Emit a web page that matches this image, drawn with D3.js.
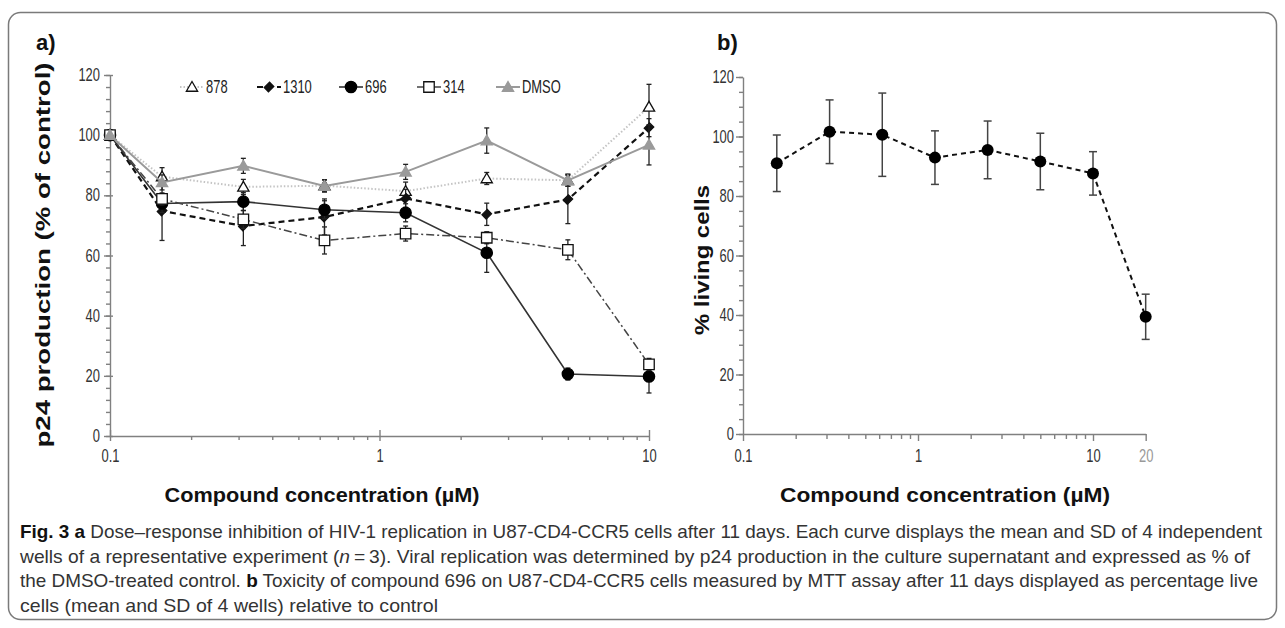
<!DOCTYPE html>
<html>
<head>
<meta charset="utf-8">
<script src="https://cdn.jsdelivr.net/npm/d3@7"></script>
<style>
  body { margin: 0; background: #fff; }
  svg { display: block; }
  .tick text, .legend text { font-family: "Liberation Sans", Arial, sans-serif; font-size: 17.5px; fill: #333; }
  .axis path, .axis line { stroke: #808080; stroke-width: 1.4; }
  .title { font-family: "Liberation Sans", Arial, sans-serif; font-weight: bold; fill: #111; }
  .caption { font-family: "Liberation Sans", Arial, sans-serif; font-size: 19px; fill: #333; }
</style>
</head>
<body>
<script>
// ---- data ----
var concA = [0.1, 0.156, 0.3125, 0.625, 1.25, 2.5, 5, 10];

var s878 = [100, 86.2, 82.8, 83.2, 81.4, 85.6, 85.0, 109.4];
var sd878 = [0, 3, 2.5, 2, 3, 2, 2, 7.5];
var s1310 = [100, 74.8, 69.8, 72.8, 79.0, 73.7, 78.6, 102.5];
var sd1310 = [0, 9.8, 6.5, 6, 3, 3.7, 8, 3];
var s696 = [100, 77.3, 77.9, 75.2, 74.2, 60.9, 20.6, 19.8];
var sd696 = [0, 3, 3, 3, 3, 6.5, 2, 5.5];
var s314 = [100, 78.8, 72.0, 65.0, 67.3, 65.9, 61.9, 23.8];
var sd314 = [0, 2, 3, 4.5, 2.5, 2, 3.3, 2];
var sDMSO = [100, 84.3, 89.8, 83.1, 87.8, 98.2, 85.0, 96.8];
var sdDMSO = [0, 2.5, 2.5, 2, 2.5, 4.2, 2, 6.7];

var legendNames = ["878", "1310", "696", "314", "DMSO"];

var concB = [0.156, 0.3125, 0.625, 1.25, 2.5, 5, 10, 20];
var living = [91.0, 101.6, 100.6, 92.9, 95.5, 91.6, 87.6, 39.4];
var livingSd = [9.5, 10.7, 14.0, 9.0, 9.7, 9.5, 7.3, 7.6];

var xTicksA = [0.1, 1, 10];
var xTicksB = [0.1, 1, 10, 20];
var yTicks = [0, 20, 40, 60, 80, 100, 120];

var squeeze = 0.74; // narrow look of the tick font

var svg = d3.select("body").append("svg")
  .attr("width", 1285)
  .attr("height", 628);

// outer frame
svg.append("rect")
  .attr("x", 8.5).attr("y", 12.5)
  .attr("width", 1268).attr("height", 607)
  .attr("rx", 12)
  .attr("fill", "none")
  .attr("stroke", "#7a7a7a")
  .attr("stroke-width", 1.5);

// ================= panel a =================
var xA = d3.scaleLog().domain([0.1, 10]).range([110, 649]);
var yA = d3.scaleLinear().domain([0, 120]).range([436, 75]);

// minor ticks
svg.append("g").attr("class", "axis")
  .attr("transform", "translate(0,436)")
  .call(d3.axisBottom(xA).tickValues(xA.ticks().filter(d => xTicksA.indexOf(d) < 0)).tickSize(4).tickFormat(""))
  .select(".domain").remove();
svg.append("g").attr("class", "axis")
  .attr("transform", "translate(110,0)")
  .call(d3.axisLeft(yA).tickValues(d3.range(0, 121, 4)).tickSize(4).tickFormat(""))
  .select(".domain").remove();

var xAxisA = svg.append("g").attr("class", "axis")
  .attr("transform", "translate(0,436)")
  .call(d3.axisBottom(xA).tickValues(xTicksA).tickFormat(d => d).tickSizeOuter(0));
xAxisA.selectAll(".tick line").attr("y1", -6).attr("y2", 5);
xAxisA.selectAll(".tick text").attr("y", 14).attr("transform", "scale(" + squeeze + ",1)");

var yAxisA = svg.append("g").attr("class", "axis")
  .attr("transform", "translate(110,0)")
  .call(d3.axisLeft(yA).tickValues(yTicks).tickSizeOuter(0));
yAxisA.selectAll(".tick line").attr("x1", -6).attr("x2", 3);
yAxisA.selectAll(".tick text").attr("x", -10 / squeeze).attr("transform", "scale(" + squeeze + ",1)");

var seriesA = [
  { vals: s878, sd: sd878, line: "#c4c4c4", width: 2, dash: "1.5,2", sym: d3.symbolTriangle, size: 55, fill: "#fff", stroke: "#111" },
  { vals: s1310, sd: sd1310, line: "#111", width: 2.2, dash: "6,4", sym: "diamond", size: 45, fill: "#111", stroke: "#111" },
  { vals: s696, sd: sd696, line: "#333", width: 1.6, dash: null, sym: d3.symbolCircle, size: 100, fill: "#000", stroke: "#000" },
  { vals: s314, sd: sd314, line: "#444", width: 1.5, dash: "8,3,2,3", sym: d3.symbolSquare, size: 110, fill: "#fff", stroke: "#111" },
  { vals: sDMSO, sd: sdDMSO, line: "#9a9a9a", width: 2, dash: null, sym: d3.symbolTriangle, size: 55, fill: "#9a9a9a", stroke: "#9a9a9a" }
];

function markerPath(s) {
  if (s.sym === "diamond") return d3.symbol(d3.symbolSquare, s.size)();
  return d3.symbol(s.sym, s.size)();
}
function markerTransform(s, x, y) {
  if (s.sym === "diamond") return "translate(" + x + "," + y + ") rotate(45) scale(0.9,1.1)";
  if (s.sym === d3.symbolTriangle) return "translate(" + x + "," + (y + 1) + ")";
  return "translate(" + x + "," + y + ")";
}

var lineA = d3.line().x(d => xA(d[0])).y(d => yA(d[1]));

seriesA.forEach(function(s) {
  var pts = concA.map((c, i) => [c, s.vals[i], s.sd[i]]);
  svg.append("path")
    .datum(pts)
    .attr("d", lineA)
    .attr("fill", "none")
    .attr("stroke", s.line)
    .attr("stroke-width", s.width)
    .attr("stroke-dasharray", s.dash);

  var eb = svg.append("g").selectAll("g")
    .data(pts.filter(d => d[2] > 0))
    .enter().append("g")
    .attr("stroke", "#222").attr("stroke-width", 1.3);
  eb.append("line")
    .attr("x1", d => xA(d[0])).attr("x2", d => xA(d[0]))
    .attr("y1", d => yA(d[1] - d[2])).attr("y2", d => yA(d[1] + d[2]));
  eb.append("line")
    .attr("x1", d => xA(d[0]) - 2.5).attr("x2", d => xA(d[0]) + 2.5)
    .attr("y1", d => yA(d[1] + d[2])).attr("y2", d => yA(d[1] + d[2]));
  eb.append("line")
    .attr("x1", d => xA(d[0]) - 2.5).attr("x2", d => xA(d[0]) + 2.5)
    .attr("y1", d => yA(d[1] - d[2])).attr("y2", d => yA(d[1] - d[2]));

  svg.append("g").selectAll("path")
    .data(pts)
    .enter().append("path")
    .attr("d", markerPath(s))
    .attr("transform", d => markerTransform(s, xA(d[0]), yA(d[1])))
    .attr("fill", s.fill)
    .attr("stroke", s.stroke)
    .attr("stroke-width", 1.3);
});

// legend
var legendX = [192, 269, 351, 429, 508];
seriesA.forEach(function(s, i) {
  var lg = svg.append("g").attr("class", "legend").attr("transform", "translate(" + legendX[i] + ",87)");
  lg.append("line")
    .attr("x1", -12).attr("x2", 12)
    .attr("stroke", s.line).attr("stroke-width", s.width)
    .attr("stroke-dasharray", s.dash);
  lg.append("path")
    .attr("d", markerPath(s))
    .attr("transform", markerTransform(s, 0, 0))
    .attr("fill", s.fill).attr("stroke", s.stroke).attr("stroke-width", 1.3);
  lg.append("text")
    .attr("x", 14 / squeeze).attr("dy", "0.35em")
    .attr("transform", "scale(" + squeeze + ",1)")
    .style("fill", "#222")
    .text(legendNames[i]);
});

svg.append("text").attr("class", "title")
  .attr("x", 36).attr("y", 50).style("font-size", "22px").text("a)");

svg.append("text").attr("class", "title")
  .attr("transform", "translate(50,255) rotate(-90)")
  .attr("text-anchor", "middle")
  .attr("textLength", 385).attr("lengthAdjust", "spacingAndGlyphs")
  .style("font-size", "21px")
  .text("p24 production (% of control)");

svg.append("text").attr("class", "title")
  .attr("x", 322).attr("y", 502)
  .attr("text-anchor", "middle")
  .attr("textLength", 315).attr("lengthAdjust", "spacingAndGlyphs")
  .style("font-size", "21px")
  .text("Compound concentration (\u00b5M)");

// ================= panel b =================
var xB = d3.scaleLog().domain([0.1, 20]).range([743, 743 + 175 * Math.log10(200)]);
var yB = d3.scaleLinear().domain([0, 120]).range([434, 77]);

svg.append("g").attr("class", "axis")
  .attr("transform", "translate(0,434)")
  .call(d3.axisBottom(xB).tickValues(xB.ticks().filter(d => xTicksB.indexOf(d) < 0)).tickSize(5).tickFormat(""))
  .select(".domain").remove();
svg.append("g").attr("class", "axis")
  .attr("transform", "translate(743,0)")
  .call(d3.axisLeft(yB).tickValues(d3.range(0, 121, 5)).tickSize(4).tickFormat(""))
  .select(".domain").remove();

var xAxisB = svg.append("g").attr("class", "axis")
  .attr("transform", "translate(0,434)")
  .call(d3.axisBottom(xB).tickValues(xTicksB).tickFormat(d => d).tickSize(7).tickSizeOuter(0));
xAxisB.selectAll(".tick text").attr("y", 16).attr("transform", "scale(" + squeeze + ",1)");
xAxisB.selectAll(".tick text").filter(d => d === 20).style("fill", "#999");

var yAxisB = svg.append("g").attr("class", "axis")
  .attr("transform", "translate(743,0)")
  .call(d3.axisLeft(yB).tickValues(yTicks).tickSize(7).tickSizeOuter(0));
yAxisB.selectAll(".tick text").attr("x", -9 / squeeze).attr("transform", "scale(" + squeeze + ",1)");

var ptsB = concB.map((c, i) => [c, living[i], livingSd[i]]);

svg.append("path")
  .datum(ptsB)
  .attr("d", d3.line().x(d => xB(d[0])).y(d => yB(d[1])))
  .attr("fill", "none")
  .attr("stroke", "#111")
  .attr("stroke-width", 2)
  .attr("stroke-dasharray", "5,4");

var ebB = svg.append("g").selectAll("g")
  .data(ptsB)
  .enter().append("g")
  .attr("stroke", "#444").attr("stroke-width", 1.5);
ebB.append("line")
  .attr("x1", d => xB(d[0])).attr("x2", d => xB(d[0]))
  .attr("y1", d => yB(d[1] - d[2])).attr("y2", d => yB(d[1] + d[2]));
ebB.append("line")
  .attr("x1", d => xB(d[0]) - 4).attr("x2", d => xB(d[0]) + 4)
  .attr("y1", d => yB(d[1] + d[2])).attr("y2", d => yB(d[1] + d[2]));
ebB.append("line")
  .attr("x1", d => xB(d[0]) - 4).attr("x2", d => xB(d[0]) + 4)
  .attr("y1", d => yB(d[1] - d[2])).attr("y2", d => yB(d[1] - d[2]));

svg.append("g").selectAll("circle")
  .data(ptsB)
  .enter().append("circle")
  .attr("cx", d => xB(d[0]))
  .attr("cy", d => yB(d[1]))
  .attr("r", 6)
  .attr("fill", "#000");

svg.append("text").attr("class", "title")
  .attr("x", 717).attr("y", 50).style("font-size", "22px").text("b)");

svg.append("text").attr("class", "title")
  .attr("transform", "translate(709,260) rotate(-90)")
  .attr("text-anchor", "middle")
  .attr("textLength", 150).attr("lengthAdjust", "spacingAndGlyphs")
  .style("font-size", "21px")
  .text("% living cells");

svg.append("text").attr("class", "title")
  .attr("x", 945).attr("y", 502)
  .attr("text-anchor", "middle")
  .attr("textLength", 330).attr("lengthAdjust", "spacingAndGlyphs")
  .style("font-size", "21px")
  .text("Compound concentration (\u00b5M)");

// ================= caption =================
var captionLines = [
  [["Fig. 3", "b"], ["  ", ""], ["a", "b"], [" Dose\u2013response inhibition of HIV-1 replication in U87-CD4-CCR5 cells after 11 days. Each curve displays the mean and SD of 4 independent", ""]],
  [["wells of a representative experiment (", ""], ["n", "i"], ["\u2009=\u20093). Viral replication was determined by p24 production in the culture supernatant and expressed as % of", ""]],
  [["the DMSO-treated control. ", ""], ["b", "b"], [" Toxicity of compound 696 on U87-CD4-CCR5 cells measured by MTT assay after 11 days displayed as percentage live", ""]],
  [["cells (mean and SD of 4 wells) relative to control", ""]]
];
var captionWidths = [1242, 1230, 1238, 418];

captionLines.forEach(function(parts, i) {
  var t = svg.append("text").attr("class", "caption")
    .attr("x", 20).attr("y", 538 + i * 24.5)
    .attr("textLength", captionWidths[i]).attr("lengthAdjust", "spacingAndGlyphs");
  parts.forEach(function(p) {
    var ts = t.append("tspan").text(p[0]);
    if (p[1] === "b") ts.style("font-weight", "bold").style("fill", "#111");
    if (p[1] === "i") ts.style("font-style", "italic");
  });
});
</script>
</body>
</html>
